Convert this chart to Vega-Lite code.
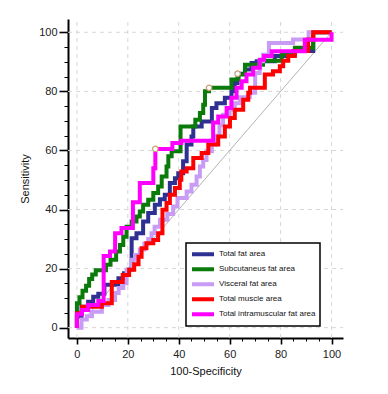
{
  "$schema": "https://vega.github.io/schema/vega-lite/v6.json",
  "width": 275,
  "height": 319,
  "autosize": {"type": "none"},
  "padding": {"left": 68, "top": 19, "right": 45, "bottom": 56},
  "background": "white",
  "config": {
    "view": {"stroke": null},
    "font": "Liberation Sans",
    "legend": {"strokeColor": "black", "strokeWidth": 1.5, "fillColor": "white"},
    "axis": {
      "domainColor": "black",
      "domainWidth": 2,
      "tickColor": "black",
      "labelFontSize": 11,
      "labelColor": "#222222",
      "labelOverlap": false,
      "labelFlush": false,
      "titleFontSize": 11,
      "titleFontWeight": "normal",
      "titleColor": "#111111",
      "grid": false
    }
  },
  "datasets": {
    "roc": [
      {"s": "Total fat area", "k": 0, "fpr": 0, "tpr": 0},
      {"s": "Total fat area", "k": 1, "fpr": 0, "tpr": 3.7},
      {"s": "Total fat area", "k": 2, "fpr": 1.8, "tpr": 7.1},
      {"s": "Total fat area", "k": 3, "fpr": 4.4, "tpr": 8.8},
      {"s": "Total fat area", "k": 4, "fpr": 6.4, "tpr": 10.5},
      {"s": "Total fat area", "k": 5, "fpr": 8.4, "tpr": 11.5},
      {"s": "Total fat area", "k": 6, "fpr": 10.8, "tpr": 14.5},
      {"s": "Total fat area", "k": 7, "fpr": 16.3, "tpr": 16.7},
      {"s": "Total fat area", "k": 8, "fpr": 18.5, "tpr": 18.4},
      {"s": "Total fat area", "k": 9, "fpr": 20.1, "tpr": 19.6},
      {"s": "Total fat area", "k": 10, "fpr": 21.5, "tpr": 30.3},
      {"s": "Total fat area", "k": 11, "fpr": 23.4, "tpr": 32},
      {"s": "Total fat area", "k": 12, "fpr": 26, "tpr": 35.9},
      {"s": "Total fat area", "k": 13, "fpr": 28, "tpr": 38.8},
      {"s": "Total fat area", "k": 14, "fpr": 30.6, "tpr": 41.6},
      {"s": "Total fat area", "k": 15, "fpr": 32.6, "tpr": 43.5},
      {"s": "Total fat area", "k": 16, "fpr": 34.5, "tpr": 45},
      {"s": "Total fat area", "k": 17, "fpr": 36.5, "tpr": 49},
      {"s": "Total fat area", "k": 18, "fpr": 38.5, "tpr": 50.6},
      {"s": "Total fat area", "k": 19, "fpr": 39.8, "tpr": 52.3},
      {"s": "Total fat area", "k": 20, "fpr": 41.7, "tpr": 56.3},
      {"s": "Total fat area", "k": 21, "fpr": 43.1, "tpr": 62},
      {"s": "Total fat area", "k": 22, "fpr": 45, "tpr": 64.7},
      {"s": "Total fat area", "k": 23, "fpr": 45.7, "tpr": 68.1},
      {"s": "Total fat area", "k": 24, "fpr": 49, "tpr": 69.8},
      {"s": "Total fat area", "k": 25, "fpr": 53, "tpr": 74.4},
      {"s": "Total fat area", "k": 26, "fpr": 54.8, "tpr": 76},
      {"s": "Total fat area", "k": 27, "fpr": 58.1, "tpr": 77.8},
      {"s": "Total fat area", "k": 28, "fpr": 60.7, "tpr": 80},
      {"s": "Total fat area", "k": 29, "fpr": 62, "tpr": 82.8},
      {"s": "Total fat area", "k": 30, "fpr": 63.1, "tpr": 86},
      {"s": "Total fat area", "k": 31, "fpr": 66, "tpr": 87.4},
      {"s": "Total fat area", "k": 32, "fpr": 68.6, "tpr": 89.6},
      {"s": "Total fat area", "k": 33, "fpr": 70.6, "tpr": 90.2},
      {"s": "Total fat area", "k": 34, "fpr": 77.7, "tpr": 92},
      {"s": "Total fat area", "k": 35, "fpr": 85, "tpr": 93.7},
      {"s": "Total fat area", "k": 36, "fpr": 92.8, "tpr": 100},
      {"s": "Total fat area", "k": 37, "fpr": 100, "tpr": 100},

      {"s": "Subcutaneus fat area", "k": 0, "fpr": 0, "tpr": 0},
      {"s": "Subcutaneus fat area", "k": 1, "fpr": 0, "tpr": 8.3},
      {"s": "Subcutaneus fat area", "k": 2, "fpr": 1, "tpr": 10.3},
      {"s": "Subcutaneus fat area", "k": 3, "fpr": 2.2, "tpr": 12.5},
      {"s": "Subcutaneus fat area", "k": 4, "fpr": 3.6, "tpr": 14.2},
      {"s": "Subcutaneus fat area", "k": 5, "fpr": 4.8, "tpr": 16.5},
      {"s": "Subcutaneus fat area", "k": 6, "fpr": 6, "tpr": 18},
      {"s": "Subcutaneus fat area", "k": 7, "fpr": 7.4, "tpr": 19.4},
      {"s": "Subcutaneus fat area", "k": 8, "fpr": 11.4, "tpr": 21.3},
      {"s": "Subcutaneus fat area", "k": 9, "fpr": 13.2, "tpr": 23},
      {"s": "Subcutaneus fat area", "k": 10, "fpr": 15.4, "tpr": 25.8},
      {"s": "Subcutaneus fat area", "k": 11, "fpr": 16.9, "tpr": 28},
      {"s": "Subcutaneus fat area", "k": 12, "fpr": 18.2, "tpr": 30.8},
      {"s": "Subcutaneus fat area", "k": 13, "fpr": 19.5, "tpr": 34.2},
      {"s": "Subcutaneus fat area", "k": 14, "fpr": 21.5, "tpr": 35.9},
      {"s": "Subcutaneus fat area", "k": 15, "fpr": 23.4, "tpr": 37.6},
      {"s": "Subcutaneus fat area", "k": 16, "fpr": 24.7, "tpr": 39.3},
      {"s": "Subcutaneus fat area", "k": 17, "fpr": 26, "tpr": 41.6},
      {"s": "Subcutaneus fat area", "k": 18, "fpr": 28, "tpr": 43.3},
      {"s": "Subcutaneus fat area", "k": 19, "fpr": 30, "tpr": 45.6},
      {"s": "Subcutaneus fat area", "k": 20, "fpr": 31.9, "tpr": 47.8},
      {"s": "Subcutaneus fat area", "k": 21, "fpr": 33.3, "tpr": 51.2},
      {"s": "Subcutaneus fat area", "k": 22, "fpr": 35.2, "tpr": 54.6},
      {"s": "Subcutaneus fat area", "k": 23, "fpr": 35.9, "tpr": 58},
      {"s": "Subcutaneus fat area", "k": 24, "fpr": 37.2, "tpr": 59.7},
      {"s": "Subcutaneus fat area", "k": 25, "fpr": 40.7, "tpr": 68.1},
      {"s": "Subcutaneus fat area", "k": 26, "fpr": 46.5, "tpr": 70.4},
      {"s": "Subcutaneus fat area", "k": 27, "fpr": 48.3, "tpr": 72.7},
      {"s": "Subcutaneus fat area", "k": 28, "fpr": 49.6, "tpr": 75.5},
      {"s": "Subcutaneus fat area", "k": 29, "fpr": 50.3, "tpr": 80},
      {"s": "Subcutaneus fat area", "k": 30, "fpr": 51.9, "tpr": 81.2},
      {"s": "Subcutaneus fat area", "k": 31, "fpr": 60.7, "tpr": 84},
      {"s": "Subcutaneus fat area", "k": 32, "fpr": 63.5, "tpr": 85.7},
      {"s": "Subcutaneus fat area", "k": 33, "fpr": 66, "tpr": 89},
      {"s": "Subcutaneus fat area", "k": 34, "fpr": 73.1, "tpr": 90.4},
      {"s": "Subcutaneus fat area", "k": 35, "fpr": 80.4, "tpr": 92.6},
      {"s": "Subcutaneus fat area", "k": 36, "fpr": 85.6, "tpr": 94.8},
      {"s": "Subcutaneus fat area", "k": 37, "fpr": 92.8, "tpr": 100},
      {"s": "Subcutaneus fat area", "k": 38, "fpr": 100, "tpr": 100},

      {"s": "Visceral fat area", "k": 0, "fpr": 0, "tpr": 0},
      {"s": "Visceral fat area", "k": 1, "fpr": 1.8, "tpr": 2.8},
      {"s": "Visceral fat area", "k": 2, "fpr": 3.9, "tpr": 3.9},
      {"s": "Visceral fat area", "k": 3, "fpr": 5.9, "tpr": 5.4},
      {"s": "Visceral fat area", "k": 4, "fpr": 9.8, "tpr": 7.7},
      {"s": "Visceral fat area", "k": 5, "fpr": 12.4, "tpr": 9.4},
      {"s": "Visceral fat area", "k": 6, "fpr": 15, "tpr": 11.7},
      {"s": "Visceral fat area", "k": 7, "fpr": 16.4, "tpr": 13.4},
      {"s": "Visceral fat area", "k": 8, "fpr": 18.2, "tpr": 15},
      {"s": "Visceral fat area", "k": 9, "fpr": 19.5, "tpr": 19.6},
      {"s": "Visceral fat area", "k": 10, "fpr": 21.5, "tpr": 23},
      {"s": "Visceral fat area", "k": 11, "fpr": 22.8, "tpr": 24.6},
      {"s": "Visceral fat area", "k": 12, "fpr": 24.7, "tpr": 26.5},
      {"s": "Visceral fat area", "k": 13, "fpr": 26.5, "tpr": 28.5},
      {"s": "Visceral fat area", "k": 14, "fpr": 28, "tpr": 30},
      {"s": "Visceral fat area", "k": 15, "fpr": 29.3, "tpr": 32},
      {"s": "Visceral fat area", "k": 16, "fpr": 30.5, "tpr": 34.2},
      {"s": "Visceral fat area", "k": 17, "fpr": 32.6, "tpr": 36.5},
      {"s": "Visceral fat area", "k": 18, "fpr": 35.5, "tpr": 38.5},
      {"s": "Visceral fat area", "k": 19, "fpr": 37.8, "tpr": 41},
      {"s": "Visceral fat area", "k": 20, "fpr": 39.5, "tpr": 43.9},
      {"s": "Visceral fat area", "k": 21, "fpr": 43.1, "tpr": 46.1},
      {"s": "Visceral fat area", "k": 22, "fpr": 45, "tpr": 48.4},
      {"s": "Visceral fat area", "k": 23, "fpr": 47, "tpr": 51.2},
      {"s": "Visceral fat area", "k": 24, "fpr": 48.3, "tpr": 54.6},
      {"s": "Visceral fat area", "k": 25, "fpr": 49.6, "tpr": 56.8},
      {"s": "Visceral fat area", "k": 26, "fpr": 50.9, "tpr": 59.7},
      {"s": "Visceral fat area", "k": 27, "fpr": 53, "tpr": 62},
      {"s": "Visceral fat area", "k": 28, "fpr": 54.5, "tpr": 65},
      {"s": "Visceral fat area", "k": 29, "fpr": 56, "tpr": 68.5},
      {"s": "Visceral fat area", "k": 30, "fpr": 57.4, "tpr": 72.1},
      {"s": "Visceral fat area", "k": 31, "fpr": 60, "tpr": 73.8},
      {"s": "Visceral fat area", "k": 32, "fpr": 62, "tpr": 76},
      {"s": "Visceral fat area", "k": 33, "fpr": 64, "tpr": 78},
      {"s": "Visceral fat area", "k": 34, "fpr": 67.9, "tpr": 79.5},
      {"s": "Visceral fat area", "k": 35, "fpr": 70, "tpr": 86.2},
      {"s": "Visceral fat area", "k": 36, "fpr": 71.8, "tpr": 90.2},
      {"s": "Visceral fat area", "k": 37, "fpr": 73.1, "tpr": 92.4},
      {"s": "Visceral fat area", "k": 38, "fpr": 75.4, "tpr": 96.4},
      {"s": "Visceral fat area", "k": 39, "fpr": 84.9, "tpr": 97.6},
      {"s": "Visceral fat area", "k": 40, "fpr": 91, "tpr": 100},
      {"s": "Visceral fat area", "k": 41, "fpr": 100, "tpr": 100},

      {"s": "Total muscle area", "k": 0, "fpr": 0, "tpr": 0},
      {"s": "Total muscle area", "k": 1, "fpr": 0, "tpr": 4.9},
      {"s": "Total muscle area", "k": 2, "fpr": 2, "tpr": 7.1},
      {"s": "Total muscle area", "k": 3, "fpr": 9.8, "tpr": 8.3},
      {"s": "Total muscle area", "k": 4, "fpr": 13.7, "tpr": 15.5},
      {"s": "Total muscle area", "k": 5, "fpr": 18, "tpr": 17.8},
      {"s": "Total muscle area", "k": 6, "fpr": 20.5, "tpr": 19.6},
      {"s": "Total muscle area", "k": 7, "fpr": 22.5, "tpr": 21.5},
      {"s": "Total muscle area", "k": 8, "fpr": 24.2, "tpr": 24},
      {"s": "Total muscle area", "k": 9, "fpr": 25.4, "tpr": 26.9},
      {"s": "Total muscle area", "k": 10, "fpr": 27.3, "tpr": 28.6},
      {"s": "Total muscle area", "k": 11, "fpr": 30, "tpr": 29.7},
      {"s": "Total muscle area", "k": 12, "fpr": 31.9, "tpr": 32},
      {"s": "Total muscle area", "k": 13, "fpr": 33.6, "tpr": 39.9},
      {"s": "Total muscle area", "k": 14, "fpr": 35.2, "tpr": 42.2},
      {"s": "Total muscle area", "k": 15, "fpr": 36.5, "tpr": 45},
      {"s": "Total muscle area", "k": 16, "fpr": 38.5, "tpr": 47.3},
      {"s": "Total muscle area", "k": 17, "fpr": 40.4, "tpr": 50.1},
      {"s": "Total muscle area", "k": 18, "fpr": 41, "tpr": 52.9},
      {"s": "Total muscle area", "k": 19, "fpr": 43.1, "tpr": 54},
      {"s": "Total muscle area", "k": 20, "fpr": 45.7, "tpr": 57.4},
      {"s": "Total muscle area", "k": 21, "fpr": 49, "tpr": 59.1},
      {"s": "Total muscle area", "k": 22, "fpr": 51.6, "tpr": 62},
      {"s": "Total muscle area", "k": 23, "fpr": 55.5, "tpr": 64.7},
      {"s": "Total muscle area", "k": 24, "fpr": 58.1, "tpr": 68.1},
      {"s": "Total muscle area", "k": 25, "fpr": 60.1, "tpr": 71},
      {"s": "Total muscle area", "k": 26, "fpr": 62, "tpr": 73.8},
      {"s": "Total muscle area", "k": 27, "fpr": 65.3, "tpr": 77.2},
      {"s": "Total muscle area", "k": 28, "fpr": 67.3, "tpr": 79.5},
      {"s": "Total muscle area", "k": 29, "fpr": 68, "tpr": 81.2},
      {"s": "Total muscle area", "k": 30, "fpr": 73.8, "tpr": 85.7},
      {"s": "Total muscle area", "k": 31, "fpr": 77, "tpr": 86.8},
      {"s": "Total muscle area", "k": 32, "fpr": 79.7, "tpr": 88.5},
      {"s": "Total muscle area", "k": 33, "fpr": 81, "tpr": 90.4},
      {"s": "Total muscle area", "k": 34, "fpr": 83, "tpr": 92},
      {"s": "Total muscle area", "k": 35, "fpr": 85.6, "tpr": 93.7},
      {"s": "Total muscle area", "k": 36, "fpr": 90.8, "tpr": 97.6},
      {"s": "Total muscle area", "k": 37, "fpr": 92.8, "tpr": 100},
      {"s": "Total muscle area", "k": 38, "fpr": 100, "tpr": 100},

      {"s": "Total intramuscular fat area", "k": 0, "fpr": 0, "tpr": 0},
      {"s": "Total intramuscular fat area", "k": 1, "fpr": 0, "tpr": 4.5},
      {"s": "Total intramuscular fat area", "k": 2, "fpr": 2, "tpr": 6},
      {"s": "Total intramuscular fat area", "k": 3, "fpr": 4.4, "tpr": 7.7},
      {"s": "Total intramuscular fat area", "k": 4, "fpr": 8.4, "tpr": 9},
      {"s": "Total intramuscular fat area", "k": 5, "fpr": 10.5, "tpr": 24.3},
      {"s": "Total intramuscular fat area", "k": 6, "fpr": 13, "tpr": 25.8},
      {"s": "Total intramuscular fat area", "k": 7, "fpr": 15, "tpr": 32},
      {"s": "Total intramuscular fat area", "k": 8, "fpr": 17.5, "tpr": 33.7},
      {"s": "Total intramuscular fat area", "k": 9, "fpr": 22, "tpr": 42.5},
      {"s": "Total intramuscular fat area", "k": 10, "fpr": 24.7, "tpr": 49},
      {"s": "Total intramuscular fat area", "k": 11, "fpr": 30, "tpr": 54},
      {"s": "Total intramuscular fat area", "k": 12, "fpr": 30.8, "tpr": 60.5},
      {"s": "Total intramuscular fat area", "k": 13, "fpr": 37.5, "tpr": 62.5},
      {"s": "Total intramuscular fat area", "k": 14, "fpr": 41, "tpr": 63.3},
      {"s": "Total intramuscular fat area", "k": 15, "fpr": 53.5, "tpr": 69.5},
      {"s": "Total intramuscular fat area", "k": 16, "fpr": 55.5, "tpr": 71.5},
      {"s": "Total intramuscular fat area", "k": 17, "fpr": 58.8, "tpr": 74.4},
      {"s": "Total intramuscular fat area", "k": 18, "fpr": 60.7, "tpr": 77.8},
      {"s": "Total intramuscular fat area", "k": 19, "fpr": 62.7, "tpr": 81.2},
      {"s": "Total intramuscular fat area", "k": 20, "fpr": 64.7, "tpr": 83.4},
      {"s": "Total intramuscular fat area", "k": 21, "fpr": 66.6, "tpr": 85.7},
      {"s": "Total intramuscular fat area", "k": 22, "fpr": 69.2, "tpr": 88},
      {"s": "Total intramuscular fat area", "k": 23, "fpr": 71.8, "tpr": 90.7},
      {"s": "Total intramuscular fat area", "k": 24, "fpr": 73.5, "tpr": 92},
      {"s": "Total intramuscular fat area", "k": 25, "fpr": 76.5, "tpr": 93.6},
      {"s": "Total intramuscular fat area", "k": 26, "fpr": 89.5, "tpr": 97.5},
      {"s": "Total intramuscular fat area", "k": 27, "fpr": 100, "tpr": 100}
    ],
    "optimal": [
      {"fpr": 30.8, "tpr": 60.5},
      {"fpr": 51.9, "tpr": 81.2},
      {"fpr": 63.1, "tpr": 86}
    ],
    "diagonal": [
      {"fpr": 0, "tpr": 0},
      {"fpr": 100, "tpr": 100}
    ],
    "grid": [
      {"fpr": 0, "tpr": 0},
      {"fpr": 20, "tpr": 20},
      {"fpr": 40, "tpr": 40},
      {"fpr": 60, "tpr": 60},
      {"fpr": 80, "tpr": 80},
      {"fpr": 100, "tpr": 100}
    ]
  },
  "encoding": {
    "x": {
      "field": "fpr",
      "type": "quantitative",
      "title": "100-Specificity",
      "scale": {"domain": [-3.5, 104.5], "nice": false, "zero": false},
      "axis": {
        "values": [0, 5, 10, 15, 20, 25, 30, 35, 40, 45, 50, 55, 60, 65, 70, 75, 80, 85, 90, 95, 100],
        "labelExpr": "datum.value % 20 === 0 ? datum.label : ''",
        "tickSize": {"condition": {"test": "datum.value % 20 === 0", "value": 6}, "value": 3},
        "tickWidth": {"condition": {"test": "datum.value % 20 === 0", "value": 1.6}, "value": 1},
        "labelPadding": 4,
        "titlePadding": 6
      }
    },
    "y": {
      "field": "tpr",
      "type": "quantitative",
      "title": "Sensitivity",
      "scale": {"domain": [-3.5, 104.5], "nice": false, "zero": false},
      "axis": {
        "values": [0, 5, 10, 15, 20, 25, 30, 35, 40, 45, 50, 55, 60, 65, 70, 75, 80, 85, 90, 95, 100],
        "labelExpr": "datum.value % 20 === 0 ? datum.label : ''",
        "tickSize": {"condition": {"test": "datum.value % 20 === 0", "value": 9}, "value": 4},
        "tickWidth": {"condition": {"test": "datum.value % 20 === 0", "value": 1.6}, "value": 1},
        "labelPadding": 2,
        "titlePadding": 8
      }
    }
  },
  "layer": [
    {
      "data": {"name": "grid"},
      "mark": {"type": "rule", "color": "#d6d6d6", "strokeDash": [4, 4], "strokeWidth": 1},
      "encoding": {
        "y": {"datum": -3.5, "title": "Sensitivity"},
        "y2": {"datum": 104.5}
      }
    },
    {
      "data": {"name": "grid"},
      "mark": {"type": "rule", "color": "#d6d6d6", "strokeDash": [4, 4], "strokeWidth": 1},
      "encoding": {
        "x": {"datum": -3.5, "title": "100-Specificity"},
        "x2": {"datum": 104.5}
      }
    },
    {
      "data": {"name": "diagonal"},
      "mark": {"type": "line", "color": "#b4b4b4", "strokeWidth": 1}
    },
    {
      "data": {"name": "roc"},
      "mark": {"type": "line", "interpolate": "step-after", "strokeWidth": 4, "strokeJoin": "miter"},
      "encoding": {
        "order": {"field": "k", "type": "quantitative"},
        "color": {
          "field": "s",
          "type": "nominal",
          "scale": {
            "domain": ["Total fat area", "Subcutaneus fat area", "Visceral fat area", "Total muscle area", "Total intramuscular fat area"],
            "range": ["#2E3192", "#0A7A0A", "#C89CF5", "#FF0000", "#FF00FF"]
          },
          "legend": {
            "title": "\u00a0\u00a0\u00a0",
            "titleOrient": "right",
            "titleFontSize": 9,
            "titlePadding": 0,
            "orient": "none",
            "legendX": 118,
            "legendY": 224,
            "padding": 4,
            "symbolType": "stroke",
            "symbolSize": 484,
            "symbolStrokeWidth": 4,
            "clipHeight": 14.5,
            "rowPadding": 0,
            "labelFont": "Liberation Sans",
            "labelFontSize": 8,
            "labelColor": "#111111",
            "labelOffset": 3,
            "labelLimit": 200
          }
        }
      }
    },
    {
      "data": {"name": "optimal"},
      "mark": {"type": "point", "shape": "circle", "size": 30, "filled": false, "stroke": "#C9A070", "strokeWidth": 1.2, "fill": "white", "fillOpacity": 1, "opacity": 1}
    }
  ]
}
